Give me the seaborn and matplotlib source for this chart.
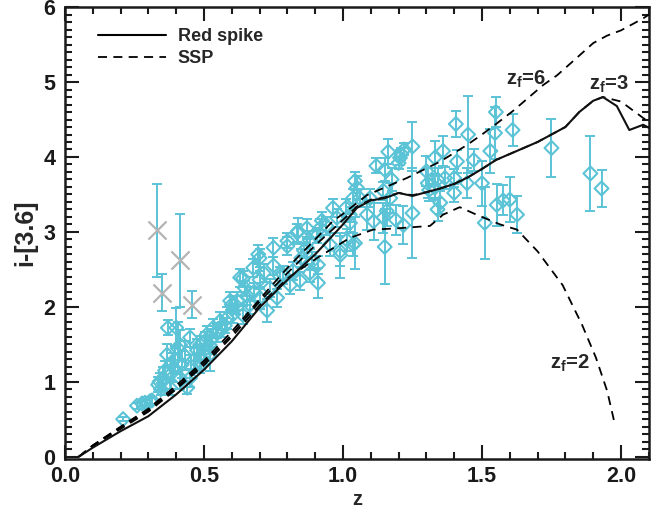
import numpy as np
import pandas as pd
import matplotlib
matplotlib.use("Agg")
import matplotlib.pyplot as plt
from matplotlib.ticker import MultipleLocator
from matplotlib.lines import Line2D
import seaborn as sns

# ---------------- data ----------------
# model tracks
rs_z = [0.05, 0.1, 0.2, 0.3, 0.4, 0.5, 0.6, 0.7, 0.8, 0.9, 1.0, 1.05, 1.1, 1.15, 1.2, 1.25,
        1.3, 1.35, 1.4, 1.45, 1.5, 1.55, 1.6, 1.65, 1.7, 1.75, 1.8, 1.85, 1.9, 1.935,
        1.985, 2.03, 2.08, 2.1]
rs_y = [0.0, 0.12, 0.34, 0.54, 0.83, 1.16, 1.54, 1.99, 2.36, 2.70, 3.1, 3.32, 3.42, 3.45,
        3.52, 3.48, 3.53, 3.58, 3.64, 3.73, 3.84, 3.96, 4.04, 4.12, 4.2, 4.3, 4.4, 4.6,
        4.75, 4.8, 4.68, 4.36, 4.43, 4.39]

ssp3_z = [0.05, 0.1, 0.2, 0.3, 0.4, 0.5, 0.6, 0.7, 0.8, 0.9, 1.0, 1.05, 1.1, 1.15, 1.2,
          1.25, 1.3, 1.35, 1.4, 1.45, 1.5, 1.55, 1.6, 1.65, 1.7, 1.75, 1.8, 1.85, 1.9,
          1.935, 2.0, 2.08, 2.1]
ssp3_y = [0.0, 0.15, 0.39, 0.62, 0.92, 1.25, 1.63, 2.07, 2.45, 2.82, 3.16, 3.34, 3.43, 3.46,
          3.52, 3.49, 3.53, 3.58, 3.64, 3.73, 3.84, 3.96, 4.04, 4.12, 4.2, 4.3, 4.4, 4.6,
          4.75, 4.8, 4.74, 4.52, 4.47]

ssp6_z = [0.05, 0.1, 0.2, 0.3, 0.4, 0.5, 0.6, 0.7, 0.8, 0.9, 0.965, 1.0, 1.086, 1.23,
          1.35, 1.446, 1.5, 1.554, 1.61, 1.72, 1.77, 1.84, 1.9, 1.95, 2.0, 2.08, 2.1]
ssp6_y = [0.0, 0.15, 0.40, 0.64, 0.95, 1.28, 1.67, 2.10, 2.52, 2.90, 3.15, 3.24, 3.49, 3.72,
          3.94, 4.16, 4.3, 4.45, 4.61, 4.96, 5.09, 5.32, 5.52, 5.62, 5.69, 5.85, 5.9]

ssp2_z = [0.05, 0.1, 0.2, 0.3, 0.4, 0.5, 0.6, 0.7, 0.8, 0.906, 1.025, 1.108, 1.205, 1.313,
          1.36, 1.42, 1.48, 1.565, 1.626, 1.70, 1.79, 1.86, 1.91, 1.95, 1.975]
ssp2_y = [0.0, 0.14, 0.37, 0.60, 0.90, 1.22, 1.60, 2.02, 2.38, 2.65, 2.92, 3.03, 3.05, 3.08,
          3.23, 3.33, 3.23, 3.1, 3.03, 2.74, 2.29, 1.76, 1.32, 0.88, 0.48]

# galaxies (diamonds)
gal_z = [0.209, 0.259, 0.277, 0.288, 0.306, 0.313, 0.335, 0.340, 0.345, 0.353, 0.360, 0.367,
         0.370, 0.378, 0.380, 0.390, 0.395, 0.400, 0.405, 0.414, 0.414, 0.420, 0.430, 0.440,
         0.450, 0.450, 0.455, 0.465, 0.475, 0.486, 0.486, 0.490, 0.500, 0.505, 0.510, 0.520,
         0.520, 0.530, 0.533, 0.545, 0.547, 0.558, 0.565, 0.575, 0.583, 0.594, 0.600, 0.605,
         0.611, 0.620, 0.630, 0.640, 0.640, 0.647, 0.655, 0.665, 0.677, 0.680, 0.695, 0.700,
         0.700, 0.700, 0.715, 0.727, 0.737, 0.750, 0.750, 0.763, 0.773, 0.785, 0.800, 0.800,
         0.810, 0.820, 0.835, 0.838, 0.845, 0.850, 0.860, 0.870, 0.870, 0.880, 0.880, 0.890,
         0.906, 0.910, 0.910, 0.917, 0.924, 0.940, 0.953, 0.964, 0.978, 0.990, 0.990, 1.010,
         1.014, 1.025, 1.025, 1.036, 1.036, 1.043, 1.043, 1.050, 1.060, 1.086, 1.097, 1.110,
         1.120, 1.145, 1.145, 1.150, 1.150, 1.157, 1.163, 1.170, 1.175, 1.190, 1.200, 1.205,
         1.210, 1.217, 1.220, 1.250, 1.250, 1.300, 1.305, 1.310, 1.330, 1.330, 1.340, 1.340,
         1.350, 1.360, 1.367, 1.400, 1.400, 1.406, 1.410, 1.446, 1.450, 1.470, 1.500, 1.510,
         1.530, 1.547, 1.550, 1.553, 1.576, 1.600, 1.610, 1.626, 1.750, 1.890, 1.930]
gal_y = [0.50, 0.68, 0.71, 0.72, 0.74, 0.75, 0.96, 1.00, 0.90, 1.05, 1.15, 1.36,
         1.72, 0.92, 1.10, 1.19, 1.30, 1.72, 1.45, 1.49, 1.05, 1.23, 1.35, 0.92,
         1.05, 1.59, 1.20, 1.30, 1.42, 1.49, 1.23, 1.32, 1.36, 1.55, 1.63, 1.36,
         1.49, 1.58, 1.72, 1.65, 1.68, 1.81, 1.70, 1.75, 1.85, 2.08, 2.03, 1.90,
         2.03, 2.08, 2.39, 2.38, 1.89, 2.25, 2.15, 2.03, 2.52, 2.20, 2.70, 2.12,
         2.36, 2.65, 2.45, 1.95, 2.25, 2.55, 2.79, 2.12, 2.41, 2.43, 2.81, 2.88,
         2.29, 2.48, 2.99, 3.01, 2.35, 2.65, 2.75, 2.79, 3.05, 2.89, 2.45, 2.61,
         2.95, 2.56, 2.32, 3.05, 3.15, 3.08, 2.83, 3.32, 3.19, 2.74, 2.69, 3.32,
         2.89, 3.12, 3.23, 3.45, 2.83, 3.68, 2.85, 3.59, 3.45, 3.23, 3.45, 3.14,
         3.88, 3.55, 3.19, 3.83, 2.80, 3.28, 4.07, 3.45, 3.70, 3.16, 3.92, 3.99,
         4.04, 3.09, 4.10, 4.14, 3.25, 3.81, 3.65, 3.56, 3.99, 3.59, 3.70, 3.30,
         3.39, 4.08, 3.72, 3.72, 3.52, 4.44, 3.94, 3.65, 4.30, 3.96, 3.65, 3.12,
         4.08, 4.32, 4.60, 3.36, 3.42, 3.43, 4.36, 3.23, 4.12, 3.78, 3.58]
gal_err = [0.03, 0.04, 0.04, 0.04, 0.04, 0.05, 0.10, 0.12, 0.08, 0.15, 0.12, 0.15,
           0.10, 0.10, 0.20, 0.20, 0.18, 0.27, 0.35, 0.20, 0.15, 0.18, 0.20, 0.08,
           0.12, 0.12, 0.15, 0.15, 0.15, 0.12, 0.12, 0.15, 0.12, 0.12, 0.12, 0.22,
           0.12, 0.12, 0.12, 0.12, 0.10, 0.12, 0.10, 0.10, 0.15, 0.12, 0.10, 0.12,
           0.12, 0.12, 0.12, 0.10, 0.12, 0.10, 0.12, 0.12, 0.12, 0.12, 0.13, 0.15,
           0.12, 0.12, 0.12, 0.15, 0.12, 0.12, 0.13, 0.12, 0.12, 0.12, 0.12, 0.10,
           0.12, 0.12, 0.12, 0.17, 0.12, 0.12, 0.10, 0.12, 0.12, 0.12, 0.12, 0.12,
           0.10, 0.12, 0.20, 0.12, 0.12, 0.12, 0.15, 0.12, 0.12, 0.20, 0.30, 0.12,
           0.15, 0.12, 0.10, 0.12, 0.15, 0.12, 0.35, 0.15, 0.12, 0.20, 0.12, 0.25,
           0.10, 0.12, 0.20, 0.15, 0.50, 0.20, 0.17, 0.20, 0.15, 0.20, 0.08, 0.10,
           0.08, 0.25, 0.08, 0.33, 0.60, 0.20, 0.20, 0.15, 0.22, 0.15, 0.15, 0.15,
           0.15, 0.20, 0.15, 0.12, 0.12, 0.17, 0.15, 0.20, 0.52, 0.15, 0.30, 0.48,
           0.30, 0.35, 0.20, 0.28, 0.20, 0.30, 0.22, 0.25, 0.39, 0.50, 0.25]

# flagged galaxies (grey crosses)
flag_z = [0.330, 0.350, 0.414, 0.457]
flag_y = [3.02, 2.19, 2.62, 2.03]
flag_err = [0.62, 0.25, 0.62, 0.18]

legend_labels = ["Red spike", "SSP"]
track_labels = ["6", "3", "2"]

# ---------------- style ----------------
CYAN = "#5bc3d6"
GREY = "#b4b4b4"
sns.set_theme(style="ticks")
plt.rcParams["font.family"] = ["Liberation Sans", "DejaVu Sans"]
plt.rcParams["font.weight"] = "bold"
plt.rcParams["mathtext.fontset"] = "custom"
plt.rcParams["mathtext.rm"] = "Liberation Sans:bold"
plt.rcParams["mathtext.bf"] = "Liberation Sans:bold"
plt.rcParams["mathtext.it"] = "Liberation Sans:bold"

fig = plt.figure(figsize=(6.6, 5.11), dpi=100)
ax = fig.add_axes([0.0985, 0.102, 0.8845, 0.884])

gal = pd.DataFrame({"z": gal_z, "col": gal_y, "err": gal_err})
flag = pd.DataFrame({"z": flag_z, "col": flag_y, "err": flag_err})

ax.errorbar(gal["z"], gal["col"], yerr=gal["err"], fmt="none", ecolor=CYAN,
            elinewidth=1.4, capsize=3.6, capthick=1.4, zorder=1)
ax.errorbar(flag["z"], flag["col"], yerr=flag["err"], fmt="none", ecolor=CYAN,
            elinewidth=1.4, capsize=3.6, capthick=1.4, zorder=1)
sns.scatterplot(data=gal, x="z", y="col", marker="D", s=50, facecolor="none",
                edgecolor=CYAN, linewidth=1.5, ax=ax, zorder=2, legend=False)
sns.scatterplot(data=flag, x="z", y="col", marker="x", s=170, color=GREY,
                linewidth=1.6, ax=ax, zorder=2, legend=False)

dash = (5, 3.5)
for zz, yy in [(ssp6_z, ssp6_y), (ssp3_z, ssp3_y), (ssp2_z, ssp2_y)]:
    sns.lineplot(x=zz, y=yy, color="black", lw=1.3, ax=ax, sort=False,
                 estimator=None, zorder=3, dashes=False, linestyle=(0, dash))
sns.lineplot(x=rs_z, y=rs_y, color="#111111", lw=1.5, ax=ax, sort=False,
             estimator=None, zorder=4)

# track labels
tfs = 14.5
ax.text(1.585, 5.03, r"z$_\mathrm{f}$=" + track_labels[0], fontsize=tfs,
        fontweight="bold", va="center", ha="left")
ax.text(1.885, 4.97, r"z$_\mathrm{f}$=" + track_labels[1], fontsize=tfs,
        fontweight="bold", va="center", ha="left")
ax.text(1.745, 1.25, r"z$_\mathrm{f}$=" + track_labels[2], fontsize=tfs,
        fontweight="bold", va="center", ha="left")

handles = [Line2D([], [], color="black", lw=1.5),
           Line2D([], [], color="black", lw=1.3, linestyle=(0, dash))]
ax.legend(handles, legend_labels, loc="upper left", bbox_to_anchor=(0.028, 0.99),
          frameon=False, handlelength=3.8, handletextpad=0.65, labelspacing=0.3,
          prop={"weight": "bold", "size": 13})

ax.set_xlim(0, 2.1)
ax.set_ylim(-0.03, 6.0)
ax.xaxis.set_major_locator(MultipleLocator(0.5))
ax.xaxis.set_minor_locator(MultipleLocator(0.1))
ax.yaxis.set_major_locator(MultipleLocator(1))
ax.yaxis.set_minor_locator(MultipleLocator(0.1))
ax.xaxis.set_major_formatter(matplotlib.ticker.FormatStrFormatter("%.1f"))
ax.tick_params(which="both", direction="in", top=True, right=True, width=1.5,
               labelsize=15.5, colors="#1a1a1a")
ax.tick_params(which="major", length=10, pad=7)
ax.tick_params(axis="x", which="major", pad=5)
ax.tick_params(which="minor", length=5)
for lab in ax.get_xticklabels() + ax.get_yticklabels():
    lab.set_fontweight("bold")
for sp in ax.spines.values():
    sp.set_linewidth(1.8)
    sp.set_color("#1a1a1a")
ax.set_xlabel("z", fontsize=14.5, fontweight="bold")
ax.xaxis.set_label_coords(0.5, -0.068)
ax.xaxis.label.set_va("top")
ax.set_ylabel("i-[3.6]", fontsize=18, fontweight="bold", labelpad=4)

fig.savefig("out.png", dpi=100)
